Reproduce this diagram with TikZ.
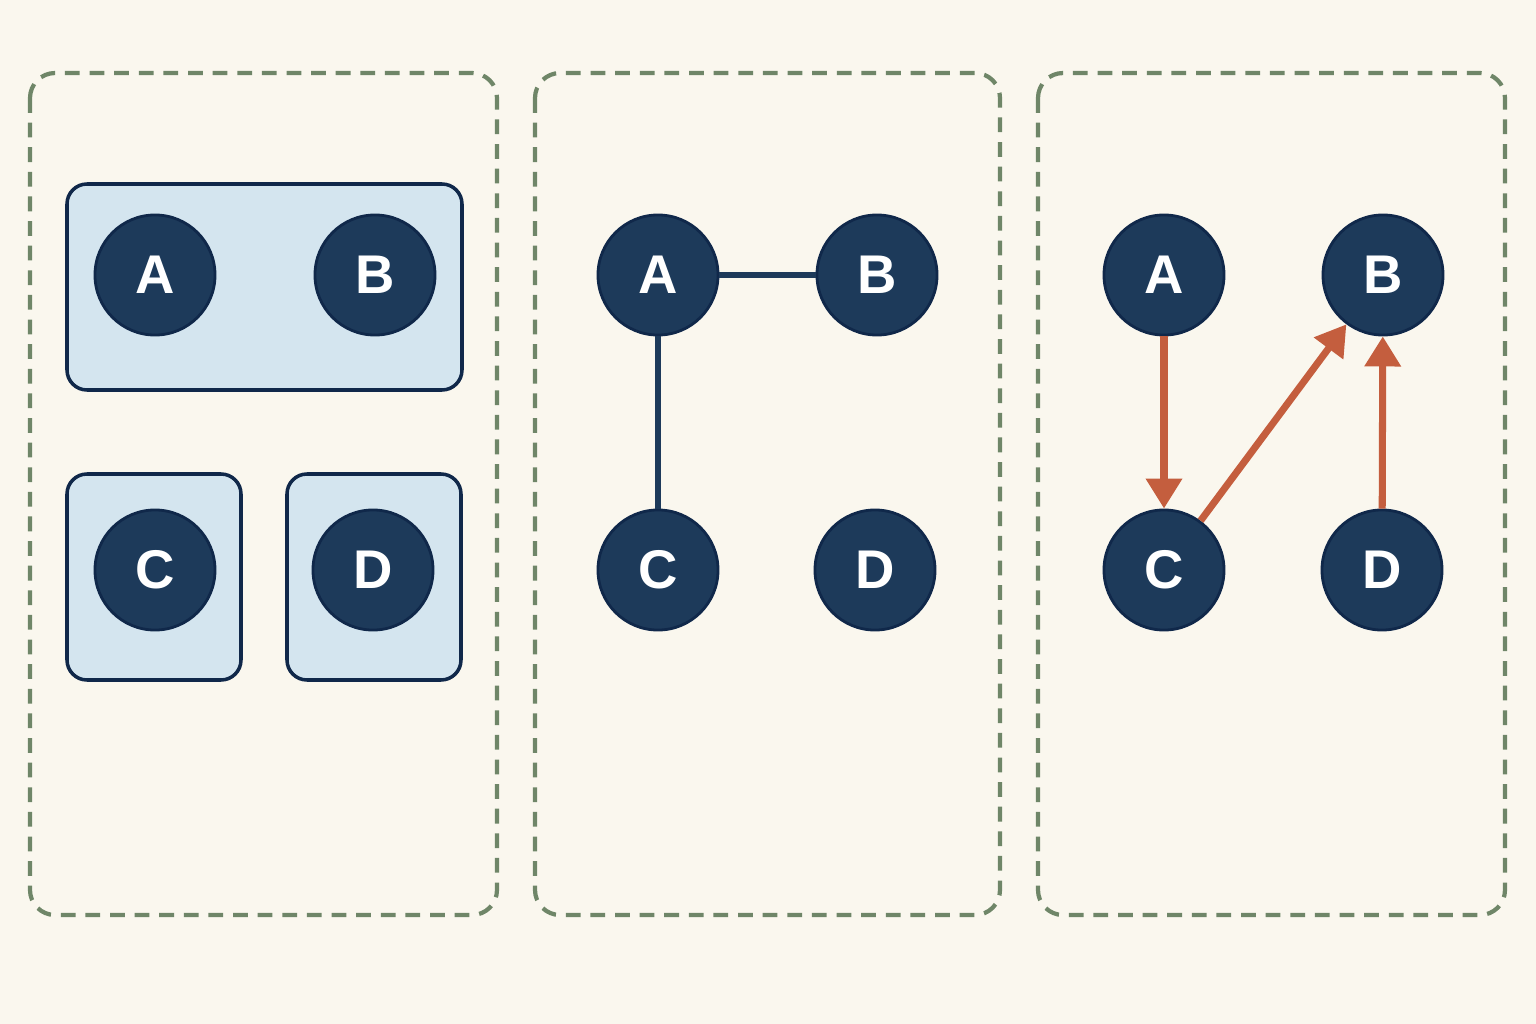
\documentclass[tikz,border=0pt]{standalone}
\usepackage{fontspec}
\setmainfont{Liberation Sans}
\usepackage{xcolor}
\usetikzlibrary{shapes,arrows.meta,positioning,calc}

\definecolor{paper}{HTML}{FAF7EE}
\definecolor{frame}{HTML}{6F8668}
\definecolor{navy}{HTML}{1D3A5A}
\definecolor{navyline}{HTML}{10284A}
\definecolor{boxblue}{HTML}{D4E5EF}
\definecolor{rust}{HTML}{C45E3E}

\begin{document}
\begin{tikzpicture}[x=0.01cm,y=-0.01cm]
  \tikzstyle{panel}=[draw=frame, line width=1.2pt, dash pattern=on 4.2pt off 2.8pt, rounded corners=0.25cm]
  \tikzstyle{vertex}=[circle, fill=navy, draw=navyline, line width=0.8pt, minimum size=1.2cm, inner sep=0pt, text=white, font=\fontsize{15.5}{18}\selectfont\bfseries]
  \tikzstyle{group}=[draw=navyline, line width=1pt, fill=boxblue, rounded corners=0.2cm]
  \tikzstyle{edge}=[draw=navy, line width=1.8pt]
  \tikzstyle{dep}=[draw=rust, line width=2pt, -{Triangle[length=3mm,width=3.5mm]}]

  \fill[paper] (0,0) rectangle (1536,1024);

  \draw[panel] (30,73) rectangle (497,915);
  \draw[panel] (535,73) rectangle (1000,915);
  \draw[panel] (1038,73) rectangle (1505,915);

  % grouped
  \draw[group] (67,184) rectangle (462,390);
  \draw[group] (67,474) rectangle (241,680);
  \draw[group] (287,474) rectangle (461,680);
  \node[vertex] (a1) at (155,275) {A};
  \node[vertex] (b1) at (375,275) {B};
  \node[vertex] (c1) at (155,570) {C};
  \node[vertex] (d1) at (373,570) {D};

  % undirected
  \node[vertex] (a2) at (658,275) {A};
  \node[vertex] (b2) at (877,275) {B};
  \node[vertex] (c2) at (658,570) {C};
  \node[vertex] (d2) at (875,570) {D};
  \draw[edge] (a2) -- (b2);
  \draw[edge] (a2) -- (c2);

  % directed
  \node[vertex] (a3) at (1164,275) {A};
  \node[vertex] (b3) at (1383,275) {B};
  \node[vertex] (c3) at (1164,570) {C};
  \node[vertex] (d3) at (1382,570) {D};
  \draw[dep] (a3) -- (c3);
  \draw[dep] (c3) -- (b3);
  \draw[dep] (d3) -- (b3);
\end{tikzpicture}
\end{document}
